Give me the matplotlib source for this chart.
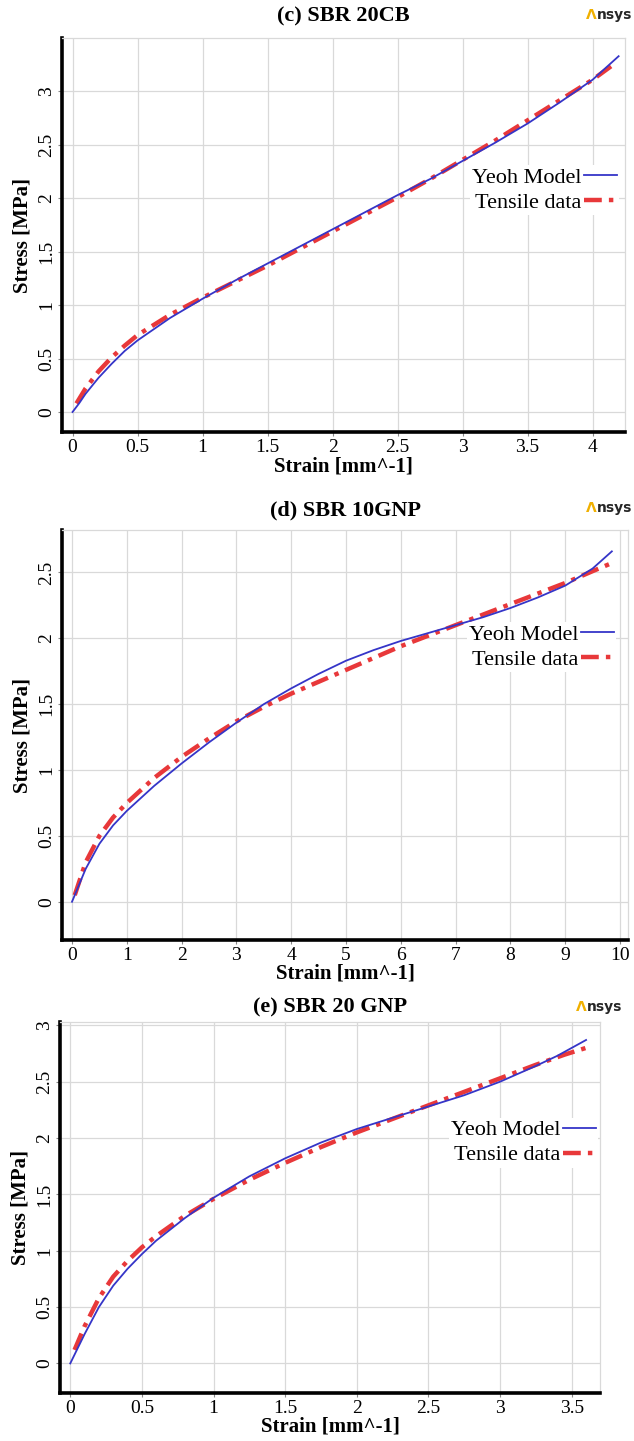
import matplotlib
matplotlib.use("Agg")
import matplotlib.pyplot as plt

plt.rcParams["font.family"] = ["Liberation Serif", "DejaVu Serif"]

# -----------------------------
# Data: (c) SBR 20CB
# -----------------------------
cb_model_strain = [0, 0.05, 0.1, 0.2, 0.3, 0.4, 0.5, 0.75, 1.0, 1.25, 1.5, 1.75, 2.0, 2.25, 2.5,
                   2.75, 3.0, 3.25, 3.5, 3.75, 4.0, 4.2]
cb_model_stress = [0, 0.08, 0.17, 0.32, 0.45, 0.57, 0.67, 0.88, 1.06, 1.23, 1.39, 1.55, 1.71, 1.87, 2.03,
                   2.18, 2.35, 2.52, 2.70, 2.90, 3.11, 3.33]
cb_test_strain = [0.03, 0.1, 0.2, 0.3, 0.4, 0.5, 0.75, 1.0, 1.25, 1.5, 1.75, 2.0, 2.25, 2.5,
                  2.75, 3.0, 3.25, 3.5, 3.75, 4.0, 4.18]
cb_test_stress = [0.08, 0.22, 0.38, 0.51, 0.62, 0.72, 0.91, 1.07, 1.22, 1.37, 1.53, 1.69, 1.85, 2.01,
                  2.18, 2.36, 2.54, 2.73, 2.92, 3.11, 3.27]

# -----------------------------
# Data: (d) SBR 10GNP
# -----------------------------
gnp10_model_strain = [0, 0.1, 0.25, 0.5, 0.75, 1, 1.5, 2, 2.5, 3, 3.5, 4, 4.5, 5, 5.5, 6,
                      6.5, 7, 7.5, 8, 8.5, 9, 9.5, 9.85]
gnp10_model_stress = [0, 0.1, 0.25, 0.44, 0.58, 0.69, 0.88, 1.05, 1.21, 1.36, 1.50, 1.62, 1.73, 1.83,
                      1.91, 1.98, 2.04, 2.10, 2.16, 2.23, 2.31, 2.40, 2.53, 2.66]
gnp10_test_strain = [0.05, 0.25, 0.5, 0.75, 1, 1.5, 2, 2.5, 3, 3.5, 4, 4.5, 5, 5.5, 6,
                     6.5, 7, 7.5, 8, 8.5, 9, 9.5, 9.9]
gnp10_test_stress = [0.05, 0.3, 0.5, 0.64, 0.75, 0.94, 1.10, 1.24, 1.37, 1.48, 1.58, 1.67, 1.76,
                     1.85, 1.94, 2.02, 2.10, 2.18, 2.26, 2.34, 2.42, 2.51, 2.58]

# -----------------------------
# Data: (e) SBR 20 GNP
# -----------------------------
gnp20_model_strain = [0, 0.05, 0.1, 0.2, 0.3, 0.4, 0.5, 0.6, 0.8, 1.0, 1.25, 1.5, 1.75, 2.0,
                      2.25, 2.5, 2.75, 3.0, 3.25, 3.4, 3.6]
gnp20_model_stress = [0, 0.13, 0.26, 0.50, 0.69, 0.84, 0.97, 1.09, 1.29, 1.47, 1.66, 1.82, 1.96, 2.08,
                      2.18, 2.28, 2.38, 2.50, 2.64, 2.73, 2.87]
gnp20_test_strain = [0.03, 0.1, 0.2, 0.3, 0.4, 0.5, 0.6, 0.8, 1.0, 1.25, 1.5, 1.75, 2.0,
                     2.25, 2.5, 2.75, 3.0, 3.25, 3.45, 3.6]
gnp20_test_stress = [0.12, 0.33, 0.58, 0.77, 0.91, 1.03, 1.13, 1.31, 1.46, 1.63, 1.78, 1.92, 2.05,
                     2.17, 2.29, 2.41, 2.53, 2.65, 2.74, 2.80]

panels = [
    {
        "title": "(c) SBR 20CB",
        "rect": [0.098, 0.700, 0.888, 0.2736],
        "model": (cb_model_strain, cb_model_stress),
        "test": (cb_test_strain, cb_test_stress),
        "xticks": [0, 0.5, 1, 1.5, 2, 2.5, 3, 3.5, 4],
        "xtick_labels": ["0", "0.5", "1", "1.5", "2", "2.5", "3", "3.5", "4"],
        "yticks": [0, 0.5, 1, 1.5, 2, 2.5, 3],
        "ytick_labels": ["0", "0.5", "1", "1.5", "2", "2.5", "3"],
        "xlim": (-0.08, 4.25),
        "ylim": (-0.19, 3.5),
        "legend_at": (0.99, 0.678),
        "title_pad": 12,
        "logo_xy": (0.997, 0.9895),
    },
    {
        "title": "(d) SBR 10GNP",
        "rect": [0.098, 0.3477, 0.893, 0.2843],
        "model": (gnp10_model_strain, gnp10_model_stress),
        "test": (gnp10_test_strain, gnp10_test_stress),
        "xticks": list(range(0, 11)),
        "xtick_labels": [str(v) for v in range(0, 11)],
        "yticks": [0, 0.5, 1, 1.5, 2, 2.5],
        "ytick_labels": ["0", "0.5", "1", "1.5", "2", "2.5"],
        "xlim": (-0.18, 10.15),
        "ylim": (-0.29, 2.82),
        "legend_at": (0.979, 0.775),
        "title_pad": 11,
        "logo_xy": (0.997, 0.6475),
    },
    {
        "title": "(e) SBR 20 GNP",
        "rect": [0.095, 0.0335, 0.852, 0.2573],
        "model": (gnp20_model_strain, gnp20_model_stress),
        "test": (gnp20_test_strain, gnp20_test_stress),
        "xticks": [0, 0.5, 1, 1.5, 2, 2.5, 3, 3.5],
        "xtick_labels": ["0", "0.5", "1", "1.5", "2", "2.5", "3", "3.5"],
        "yticks": [0, 0.5, 1, 1.5, 2, 2.5, 3],
        "ytick_labels": ["0", "0.5", "1", "1.5", "2", "2.5", "3"],
        "xlim": (-0.07, 3.7),
        "ylim": (-0.26, 3.03),
        "legend_at": (0.996, 0.742),
        "title_pad": 7,
        "logo_xy": (0.981, 0.3015),
    },
]

fig = plt.figure(figsize=(6.34, 14.41), dpi=100)

for p in panels:
    ax = fig.add_axes(p["rect"])
    ax.grid(True, color="#d9d9d9", linewidth=0.9)
    ax.set_axisbelow(True)

    ax.plot(*p["test"], color="#e8383a", linewidth=3.2, linestyle=(0, (4, 1.6, 1, 1.6)),
            label="Tensile data", zorder=3)
    ax.plot(*p["model"], color="#3535c8", linewidth=1.3, label="Yeoh Model", zorder=4)

    ax.set_xlim(*p["xlim"])
    ax.set_ylim(*p["ylim"])
    ax.set_xticks(p["xticks"])
    ax.set_xticklabels(p["xtick_labels"], fontsize=14)
    ax.set_yticks(p["yticks"])
    ax.set_yticklabels(p["ytick_labels"], fontsize=14, rotation=90, va="center")
    ax.tick_params(length=3, width=0.8, color="#888888", pad=2)

    for side in ("left", "bottom"):
        ax.spines[side].set_linewidth(2.6)
        ax.spines[side].set_color("black")
    for side in ("top", "right"):
        ax.spines[side].set_linewidth(0.9)
        ax.spines[side].set_color("#d9d9d9")

    ax.set_xlabel("Strain [mm^-1]", fontsize=15, fontweight="bold", labelpad=0)
    ax.set_ylabel("Stress [MPa]", fontsize=15, fontweight="bold", labelpad=4)
    ax.set_title(p["title"], fontsize=16, fontweight="bold", pad=p["title_pad"])

    # legend with handles after the labels
    handles, labels = ax.get_legend_handles_labels()
    leg = ax.legend(handles[::-1], labels[::-1], loc="upper right",
                    bbox_to_anchor=p["legend_at"], markerfirst=False, frameon=True,
                    fontsize=16, handlelength=1.5, handletextpad=0.1, labelspacing=0.2,
                    borderpad=0.1, borderaxespad=0.0)
    leg.get_frame().set_edgecolor("none")
    leg.get_frame().set_facecolor("white")
    leg.get_frame().set_alpha(1.0)

    # Ansys mark at the top-right corner of each panel
    lx, ly = p["logo_xy"]
    fig.text(lx, ly, "nsys", ha="right", va="center", fontsize=10, fontweight="bold",
             color="#262626", family="DejaVu Sans")
    fig.text(lx - 0.056, ly, "\u039b", ha="right", va="center", fontsize=10,
             fontweight="bold", color="#f0b000", family="DejaVu Sans")

fig.savefig("out.png", dpi=100, facecolor="white")
